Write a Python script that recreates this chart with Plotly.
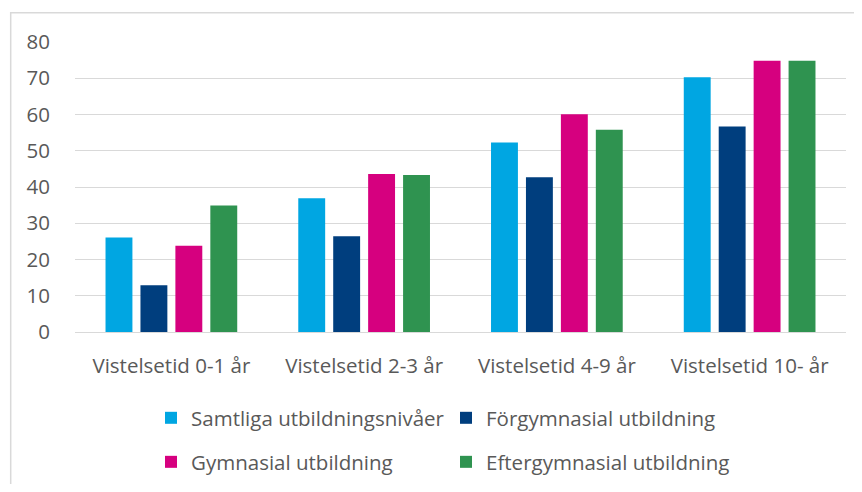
import plotly.graph_objects as go

categories = ['Vistelsetid 0-1 år', 'Vistelsetid 2-3 år', 'Vistelsetid 4-9 år', 'Vistelsetid 10- år']
samtliga = [26.1, 36.9, 52.3, 70.3]
forgymnasial = [12.9, 26.4, 42.7, 56.7]
gymnasial = [23.8, 43.6, 60.1, 74.8]
eftergymnasial = [34.9, 43.3, 55.8, 74.8]
y_ticks = [0, 10, 20, 30, 40, 50, 60, 70, 80]

colors = {
    'samtliga': '#00a6e2',
    'forgymnasial': '#003e7e',
    'gymnasial': '#d6007f',
    'eftergymnasial': '#2f9350',
}
text_color = '#595959'
font_family = 'Open Sans, sans-serif'
font_size = 20.5

fig = go.Figure()

series = [
    ('Samtliga utbildningsnivåer', samtliga, colors['samtliga'], 'legend'),
    ('Förgymnasial utbildning', forgymnasial, colors['forgymnasial'], 'legend'),
    ('Gymnasial utbildning', gymnasial, colors['gymnasial'], 'legend2'),
    ('Eftergymnasial utbildning', eftergymnasial, colors['eftergymnasial'], 'legend2'),
]

for name, values, color, legend in series:
    fig.add_trace(
        go.Bar(
            x=categories,
            y=values,
            name=name,
            marker=dict(color=color, line=dict(width=0)),
            legend=legend,
        )
    )

legend_style = dict(
    orientation='h',
    xanchor='left',
    yanchor='middle',
    xref='paper',
    yref='container',
    x=0.0986,
    font=dict(family=font_family, size=font_size, color=text_color),
    entrywidth=250,
    entrywidthmode='pixels',
    bgcolor='rgba(0,0,0,0)',
    itemclick=False,
)

# the page body adds an 8px offset, so the figure is a bit smaller than the window
fig.update_layout(
    width=846,
    height=476,
    margin=dict(l=67, r=8, t=34, b=152),
    paper_bgcolor='white',
    plot_bgcolor='white',
    barmode='group',
    bargap=0.275,
    bargroupgap=0.23,
    font=dict(family=font_family, size=font_size, color=text_color),
    legend=dict(legend_style, y=0.1387),
    legend2=dict(legend_style, y=0.0462),
    showlegend=True,
)

fig.update_yaxes(
    range=[0, 80],
    tickvals=y_ticks,
    showgrid=True,
    gridcolor='#d9d9d9',
    gridwidth=1,
    zeroline=False,
    showline=False,
    ticks='outside',
    ticklen=20,
    tickcolor='rgba(0,0,0,0)',
    tickfont=dict(family=font_family, size=font_size, color=text_color),
)

fig.update_xaxes(
    showline=True,
    linecolor='#d9d9d9',
    linewidth=1,
    ticks='outside',
    ticklen=15,
    tickcolor='rgba(0,0,0,0)',
    tickfont=dict(family=font_family, size=font_size, color=text_color),
)

# outer chart frame
fig.add_shape(
    type='rect', xref='paper', yref='paper',
    x0=-0.0834, x1=1.05, y0=-0.6, y1=1.101,
    line=dict(color='#d9d9d9', width=1.5),
    fillcolor='rgba(0,0,0,0)',
    layer='below',
)

fig.write_html('out.html')
